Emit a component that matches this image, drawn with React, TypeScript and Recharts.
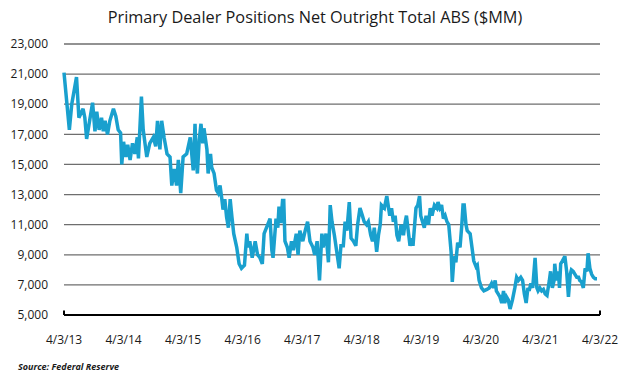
import { LineChart, Line, XAxis, YAxis, CartesianGrid, ReferenceLine } from 'recharts';

// years elapsed since 4/3/13 for each reading
const years = [
  0, 0.09, 0.13, 0.21, 0.25, 0.32, 0.35, 0.38, 0.48, 0.52, 0.55, 0.59, 0.63, 0.66, 0.69, 0.73, 0.77, 0.83, 0.87, 0.91,
  0.95, 0.97, 1.0, 1.04, 1.07, 1.11, 1.15, 1.19, 1.23, 1.25, 1.3, 1.33, 1.39, 1.44, 1.5, 1.54, 1.57, 1.61, 1.64, 1.68,
  1.73, 1.78, 1.81, 1.85, 1.89, 1.92, 1.96, 2.0, 2.06, 2.12, 2.17, 2.2, 2.22, 2.24, 2.27, 2.3, 2.33, 2.35, 2.4, 2.42,
  2.46, 2.48, 2.52, 2.56, 2.59, 2.62, 2.65, 2.67, 2.7, 2.73, 2.76, 2.79, 2.82, 2.85, 2.9, 2.94, 2.98, 3.03, 3.07, 3.09,
  3.12, 3.16, 3.21, 3.25, 3.29, 3.33, 3.36, 3.4, 3.46, 3.49, 3.51, 3.56, 3.59, 3.61, 3.64, 3.67, 3.69, 3.71, 3.75, 3.78,
  3.82, 3.85, 3.9, 3.93, 3.96, 4.01, 4.05, 4.09, 4.13, 4.18, 4.21, 4.25, 4.29, 4.33, 4.35, 4.4, 4.44, 4.47, 4.5, 4.54,
  4.58, 4.62, 4.65, 4.69, 4.72, 4.75, 4.79, 4.82, 4.86, 4.9, 4.93, 4.97, 5.01, 5.04, 5.08, 5.11, 5.15, 5.18, 5.21, 5.25,
  5.28, 5.31, 5.33, 5.38, 5.42, 5.45, 5.47, 5.5, 5.53, 5.56, 5.59, 5.62, 5.66, 5.7, 5.73, 5.75, 5.78, 5.81, 5.84, 5.86,
  5.91, 5.94, 5.97, 5.99, 6.02, 6.05, 6.08, 6.12, 6.15, 6.18, 6.22, 6.26, 6.28, 6.31, 6.34, 6.37, 6.4, 6.43, 6.46, 6.5,
  6.52, 6.55, 6.58, 6.61, 6.65, 6.68, 6.7, 6.72, 6.75, 6.77, 6.82, 6.85, 6.88, 6.92, 6.94, 6.97, 7.01, 7.05, 7.1, 7.14,
  7.18, 7.21, 7.24, 7.26, 7.29, 7.32, 7.35, 7.38, 7.4, 7.43, 7.46, 7.49, 7.53, 7.57, 7.6, 7.63, 7.67, 7.7, 7.73, 7.76,
  7.79, 7.81, 7.84, 7.87, 7.91, 7.94, 7.96, 7.99, 8.02, 8.05, 8.08, 8.11, 8.15, 8.17, 8.2, 8.23, 8.24, 8.27, 8.3, 8.32,
  8.34, 8.37, 8.41, 8.44, 8.47, 8.5, 8.52, 8.55, 8.58, 8.61, 8.64, 8.66, 8.69, 8.72, 8.75, 8.78, 8.8, 8.83, 8.86, 8.89,
  8.92, 8.95,
];

// $MM
const positions = [
  21100, 17300, 19000, 20800, 18100, 18700, 18100, 16700, 19100, 17200, 18500, 17300, 18100, 17200, 17900, 17000, 17900, 18700, 18200, 17300,
  17100, 15000, 16500, 15500, 16300, 15300, 16400, 15700, 16800, 15400, 19500, 17300, 15500, 16400, 16800, 16200, 17900, 16000, 17900, 16800,
  15700, 15500, 13600, 14700, 13600, 15300, 13100, 15500, 15700, 16800, 14600, 17700, 15300, 14400, 16600, 17700, 16400, 17400, 16000, 14400,
  15700, 14800, 14400, 13300, 13100, 13600, 12700, 12000, 12700, 11500, 10800, 12700, 11500, 10400, 9500, 8400, 8100, 8300, 10400, 9500,
  9900, 8800, 9900, 9000, 8800, 8400, 10400, 10800, 11400, 9300, 8800, 11400, 10800, 12200, 11100, 12600, 12600, 9900, 9500, 8800,
  9900, 9300, 10400, 9000, 10600, 9900, 10600, 11200, 9900, 9500, 9000, 9900, 7300, 10400, 9500, 10400, 8500, 12300, 11200, 10300,
  9200, 8100, 9600, 9600, 11200, 10600, 12500, 10100, 9900, 9600, 11000, 12100, 11600, 11200, 11000, 11200, 10300, 9900, 10800, 9200,
  10300, 11000, 12300, 12100, 12900, 12100, 11600, 12100, 11200, 11600, 10300, 9900, 11000, 10300, 11200, 11600, 10600, 9600, 10100, 9600,
  12100, 12300, 12900, 11600, 11200, 10800, 11600, 11000, 12100, 11600, 12300, 12100, 12500, 12100, 12300, 11400, 11600, 11200, 11000, 9200,
  7200, 8900, 8500, 9800, 9500, 11000, 12300, 12300, 11000, 10600, 10400, 9500, 8600, 8200, 8300, 7300, 6800, 6600, 6700, 6800,
  7100, 6800, 7300, 6600, 6400, 6200, 5800, 6600, 5800, 6200, 6000, 5400, 6000, 6800, 7500, 7300, 7500, 7300, 6400, 5800,
  6800, 6600, 7100, 6800, 8800, 6800, 6600, 6800, 6600, 6700, 6400, 6300, 7300, 7900, 6800, 7300, 8400, 7300, 7900, 6800,
  8400, 8600, 8900, 7900, 6200, 7700, 8000, 7900, 7700, 7500, 7500, 7300, 7200, 6800, 8100, 7900, 9100, 8100, 7700, 7500,
  7400, 7400,
];

const yearTicks = [0, 1, 2, 3, 4, 5, 6, 7, 8, 9];
const yearLabels = ['4/3/13', '4/3/14', '4/3/15', '4/3/16', '4/3/17', '4/3/18', '4/3/19', '4/3/20', '4/3/21', '4/3/22'];
const valueTicks = [5000, 7000, 9000, 11000, 13000, 15000, 17000, 19000, 21000, 23000];

const chartData = years.map((t, i) => ({ t, value: positions[i] }));

const font = '"Open Sans", "Noto Sans", sans-serif';

export default function App() {
  return (
    <div style={{ position: 'absolute', left: 0, top: 0, width: 626, height: 379, background: '#fff', fontFamily: font }}>
      <div
        style={{
          position: 'absolute',
          left: 0,
          top: 6,
          width: 630,
          textAlign: 'center',
          fontSize: 16.3,
          color: '#1a1a1a',
        }}
      >
        Primary Dealer Positions Net Outright Total ABS ($MM)
      </div>
      <LineChart width={626} height={379} data={chartData} margin={{ top: 44, right: 26, bottom: 34, left: 0 }}>
        <CartesianGrid vertical={false} stroke="#6e6e6e" strokeWidth={1.3} />
        <XAxis
          dataKey="t"
          type="number"
          domain={[0, 9]}
          ticks={yearTicks}
          tickFormatter={(v: number) => yearLabels[v]}
          axisLine={{ stroke: '#000', strokeWidth: 2 }}
          tickLine={false}
          tickMargin={14}
          height={30}
          tick={{ fill: '#1a1a1a', fontSize: 12, fontFamily: font }}
        />
        <YAxis
          type="number"
          domain={[5000, 23000]}
          ticks={valueTicks}
          tickFormatter={(v: number) => v.toLocaleString('en-US')}
          axisLine={false}
          tickLine={false}
          width={64}
          tickMargin={10}
          tick={{ fill: '#1a1a1a', fontSize: 12, fontFamily: font }}
        />
        <ReferenceLine segment={[{ x: 0, y: 5000 }, { x: 0, y: 5300 }]} stroke="#000" strokeWidth={2} />
        <ReferenceLine segment={[{ x: 9, y: 5000 }, { x: 9, y: 5300 }]} stroke="#000" strokeWidth={2} />
        <Line
          type="linear"
          dataKey="value"
          stroke="#19a0ce"
          strokeWidth={3.5}
          strokeLinejoin="miter"
          strokeMiterlimit={3}
          dot={false}
          isAnimationActive={false}
        />
      </LineChart>
      <div
        style={{
          position: 'absolute',
          left: 18,
          top: 360,
          fontSize: 9,
          fontWeight: 'bold',
          fontStyle: 'italic',
          fontFamily: '"Liberation Sans Narrow", "Open Sans", sans-serif',
          color: '#1a1a1a',
        }}
      >
        Source: Federal Reserve
      </div>
    </div>
  );
}
